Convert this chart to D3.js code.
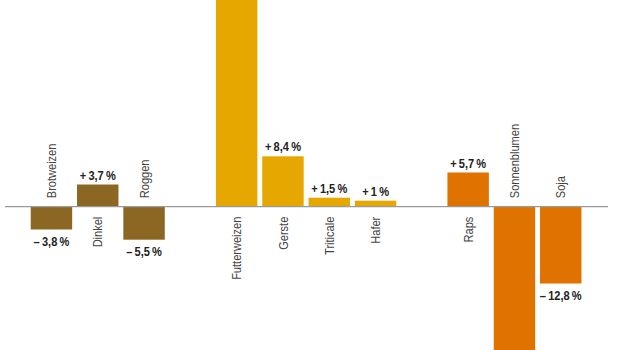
<!DOCTYPE html>
<html>
<head>
<meta charset="utf-8">
<script src="https://cdn.jsdelivr.net/npm/d3@7"></script>
<style>
  html, body { margin: 0; padding: 0; background: #fff; }
  svg { display: block; }
</style>
</head>
<body>
<svg id="chart" width="620" height="350"></svg>
<script>
// ---- data ----
const categories = ["Brotweizen", "Dinkel", "Roggen", "Futterweizen", "Gerste", "Triticale", "Hafer", "Raps", "Sonnenblumen", "Soja"];
const values     = [-3.8, 3.7, -5.5, 36.0, 8.4, 1.5, 1.0, 5.7, -26.0, -12.8];
const groupIndex = [0, 0, 0, 1, 1, 1, 1, 2, 2, 2];
const groupColors = ["#8c6724", "#e6a800", "#e07300"];

// ---- layout ----
const W = 620, H = 350;
const svg = d3.select("#chart");
const FONT = "'Liberation Sans Narrow', 'Arial Narrow', 'Liberation Sans', Arial, sans-serif";
const SQUEEZE = 0.85;

// slot domain with a spacer between groups
const slots = [];
categories.forEach((c, i) => {
  if (i > 0 && groupIndex[i] !== groupIndex[i - 1]) slots.push("__gap" + i);
  slots.push(c);
});

const x = d3.scaleBand()
  .domain(slots)
  .range([28.3, 28.3 + 46.3 * slots.length])
  .paddingInner(0.105)
  .paddingOuter(0.0525);

const y = d3.scaleLinear()
  .domain([-24, 34.45])
  .range([350.7, 0]);

const fmt = v => {
  const s = d3.format(".1~f")(Math.abs(v)).replace(".", ",");
  return (v < 0 ? "\u2013" : "+") + "\u2009" + s + "\u2009%";
};

const data = categories.map((c, i) => ({ c, v: values[i], g: groupIndex[i] }));

// bars
svg.append("g").selectAll("rect")
  .data(data)
  .join("rect")
  .attr("x", d => x(d.c))
  .attr("width", x.bandwidth())
  .attr("y", d => y(Math.max(0, d.v)))
  .attr("height", d => Math.abs(y(d.v) - y(0)))
  .attr("fill", d => groupColors[d.g]);

// zero line
svg.append("line")
  .attr("x1", 5).attr("x2", 608)
  .attr("y1", y(0)).attr("y2", y(0))
  .attr("stroke", "#9a9a9a")
  .attr("stroke-width", 1.2);

// category labels (rotated)
svg.append("g").selectAll("text")
  .data(data)
  .join("text")
  .attr("transform", d => {
    const cx = x(d.c) + x.bandwidth() / 2;
    const yy = d.v >= 0 ? y(0) + 10 : y(0) - 8.5;
    return `translate(${cx},${yy}) rotate(-90) scale(${SQUEEZE},1)`;
  })
  .attr("text-anchor", d => d.v >= 0 ? "end" : "start")
  .attr("dy", "0.35em")
  .attr("font-family", FONT)
  .attr("font-size", 13)
  .attr("fill", "#444")
  .text(d => d.c);

// value labels (only where the bar end lies inside the picture)
const visible = data.filter(d => y(d.v) > 0 && y(d.v) < H);
svg.append("g").selectAll("text")
  .data(visible)
  .join("text")
  .attr("transform", d => {
    const cx = x(d.c) + x.bandwidth() / 2;
    const yy = d.v >= 0 ? y(d.v) - 5 : y(d.v) + 16;
    return `translate(${cx},${yy}) scale(${SQUEEZE},1)`;
  })
  .attr("text-anchor", "middle")
  .attr("font-family", FONT)
  .attr("font-weight", "bold")
  .attr("font-size", 13)
  .attr("fill", "#222")
  .text(d => fmt(d.v));
</script>
</body>
</html>
